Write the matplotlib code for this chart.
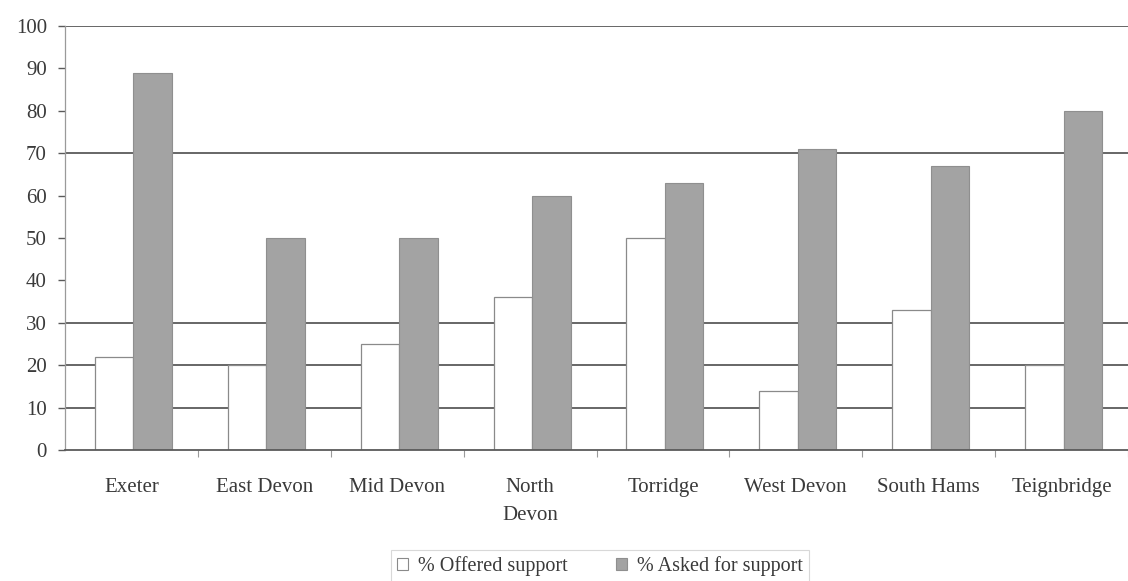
import matplotlib
matplotlib.use("Agg")
import matplotlib.pyplot as plt
import numpy as np
from matplotlib.patches import Patch

districts = ["Exeter", "East Devon", "Mid Devon", "North\nDevon", "Torridge",
             "West Devon", "South Hams", "Teignbridge"]
offered = [22, 20, 25, 36, 50, 14, 33, 20]
asked = [89, 50, 50, 60, 63, 71, 67, 80]
y_ticks = [0, 10, 20, 30, 40, 50, 60, 70, 80, 90, 100]
grid_levels = [10, 20, 30, 70, 100]

plt.rcParams["font.family"] = ["Liberation Serif", "DejaVu Serif"]
text_col = "#3a3a3a"
line_col = "#5a5a5a"
grey_fill = "#a3a3a3"

fig = plt.figure(figsize=(11.28, 5.81), dpi=100)
ax = fig.add_axes([65 / 1128, 131 / 581, 1063 / 1128, 424 / 581])

x = np.arange(len(districts))
w = 0.29
for lvl in grid_levels:
    ax.axhline(lvl, color=line_col, lw=1.3, zorder=1)

ax.bar(x - 0.13, offered, width=w, color="white", edgecolor="#8a8a8a",
       lw=0.9, zorder=2, label="% Offered support")
ax.bar(x + 0.16, asked, width=w, color=grey_fill, edgecolor="#8f8f8f",
       lw=0.8, zorder=2, label="% Asked for support")

ax.set_xlim(-0.5, -0.5 + 1063 / 133.5)
ax.set_ylim(0, 100)
ax.set_yticks(y_ticks)
ax.set_yticklabels([str(v) for v in y_ticks], fontsize=15, color=text_col)
ax.set_xticks(x)
ax.set_xticklabels(districts, fontsize=15, color=text_col, linespacing=1.65)
ax.tick_params(axis="x", length=0, pad=20)
ax.tick_params(axis="y", length=5, width=1.0, color=line_col, pad=8)
ax.set_xticks(np.arange(len(districts)) + 0.5, minor=True)
ax.tick_params(axis="x", which="minor", length=5, width=0.8, color="#9a9a9a")

for s in ["top", "right"]:
    ax.spines[s].set_visible(False)
ax.spines["left"].set_color("#9a9a9a")
ax.spines["left"].set_linewidth(0.9)
ax.spines["bottom"].set_color(line_col)
ax.spines["bottom"].set_linewidth(1.3)

handles = [Patch(facecolor="white", edgecolor="#8a8a8a", lw=0.8, label="% Offered support"),
           Patch(facecolor=grey_fill, edgecolor="#8f8f8f", lw=0.8, label="% Asked for support")]
leg = fig.legend(handles=handles, loc="center", bbox_to_anchor=(600 / 1128, 1 - 566 / 581),
                 ncol=2, frameon=True, fontsize=14.5, handlelength=0.55, handleheight=0.55,
                 handletextpad=0.5, columnspacing=2.4, borderpad=0.3, fancybox=False)
leg.get_frame().set_edgecolor("#cfcfcf")
leg.get_frame().set_linewidth(0.8)
for t in leg.get_texts():
    t.set_color(text_col)

fig.savefig("out.png", dpi=100)
